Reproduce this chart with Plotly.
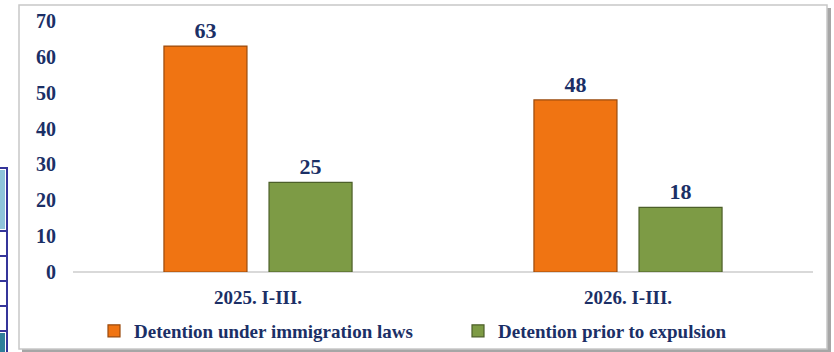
"""Detention counts by period, grouped bar chart."""

import plotly.graph_objects as go

periods = ["2025. I-III.", "2026. I-III."]
immigration_detention = [63, 48]
pre_expulsion_detention = [25, 18]
y_ticks = [0, 10, 20, 30, 40, 50, 60, 70]

NAVY = "#1B2F66"
ORANGE = "#F07412"
GREEN = "#7D9B45"
FONT = "Liberation Serif, Times New Roman, serif"

# plot area in pixels: x 73..813, y 21..272
L, R, T, B = 73, 813, 21, 272


def px(x):
    return (x - L) / (R - L)


def py(y):
    return (B - y) / (B - T)


label_font = dict(family=FONT, size=22, color=NAVY, weight="bold")

fig = go.Figure()
fig.add_trace(go.Bar(
    name="Detention under immigration laws",
    x=periods,
    y=immigration_detention,
    marker=dict(color=ORANGE, line=dict(color="#9A4A0C", width=1.2)),
    text=immigration_detention,
    textposition="outside",
    textfont=label_font,
    cliponaxis=False,
    legend="legend",
))
fig.add_trace(go.Bar(
    name="Detention prior to expulsion",
    x=periods,
    y=pre_expulsion_detention,
    marker=dict(color=GREEN, line=dict(color="#4C5F29", width=1.2)),
    text=pre_expulsion_detention,
    textposition="outside",
    textfont=label_font,
    cliponaxis=False,
    legend="legend2",
))

shapes = [
    # outer frame with a soft shadow on the right/bottom
    dict(type="rect", xref="paper", yref="paper",
         x0=px(22), x1=px(831), y0=py(352), y1=py(8),
         line=dict(width=0), fillcolor="rgba(0,0,0,0.35)", layer="below"),
    dict(type="rect", xref="paper", yref="paper",
         x0=px(19), x1=px(827), y0=py(349), y1=py(5),
         line=dict(color="#C8C8C8", width=1.5), fillcolor="white", layer="below"),
    # fragment of a neighbouring table at the far left edge
    dict(type="rect", xref="paper", yref="paper",
         x0=px(-2), x1=px(7), y0=py(353), y1=py(168),
         line=dict(color="#35359A", width=2), fillcolor="white", layer="below"),
    dict(type="rect", xref="paper", yref="paper",
         x0=px(0), x1=px(5), y0=py(229), y1=py(170),
         line=dict(width=0), fillcolor="#8FC3DA", layer="below"),
    dict(type="rect", xref="paper", yref="paper",
         x0=px(0), x1=px(5), y0=py(352), y1=py(333),
         line=dict(width=0), fillcolor="#2E7F9A", layer="below"),
]
for yy in (231, 256, 281, 306, 331):
    shapes.append(dict(type="line", xref="paper", yref="paper",
                       x0=px(-2), x1=px(7), y0=py(yy), y1=py(yy),
                       line=dict(color="#35359A", width=2), layer="below"))

legend_font = dict(family=FONT, size=19, color=NAVY, weight="bold")
legend_common = dict(
    orientation="h",
    yanchor="middle",
    y=py(331),
    xanchor="left",
    font=legend_font,
    itemwidth=30,
    bgcolor="rgba(0,0,0,0)",
)

fig.update_layout(
    width=834,
    height=352,
    margin=dict(l=L, r=834 - R, t=T, b=352 - B, autoexpand=False),
    paper_bgcolor="white",
    plot_bgcolor="rgba(0,0,0,0)",
    font=dict(family=FONT, color=NAVY, size=16),
    barmode="group",
    bargap=0.432,
    bargroupgap=0.21,
    showlegend=True,
    legend=dict(x=px(94), **legend_common),
    legend2=dict(x=px(458), **legend_common),
    shapes=shapes,
)
fig.update_xaxes(
    showgrid=False,
    showline=False,
    ticks="",
    ticklabelstandoff=12,
    tickfont=dict(family=FONT, size=19, color=NAVY, weight="bold"),
)
fig.update_yaxes(
    range=[0, 70],
    tickvals=y_ticks,
    showgrid=False,
    zeroline=True,
    zerolinecolor="#D9D9D9",
    zerolinewidth=1.5,
    showline=False,
    ticks="",
    ticklabelstandoff=16,
    tickfont=dict(family=FONT, size=20, color=NAVY, weight="bold"),
)

# drop the browser's default body margin so the figure sits at the page corner
fig.write_html(
    "out.html",
    config={"displayModeBar": False},
    post_script="document.body.style.margin='0';",
)
